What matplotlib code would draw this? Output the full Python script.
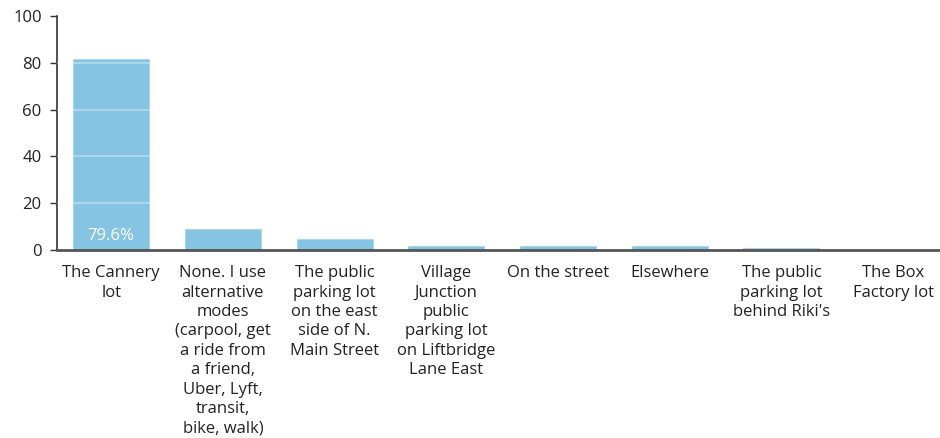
import matplotlib
matplotlib.use("Agg")
import matplotlib.pyplot as plt

categories = [
    "The Cannery\nlot",
    "None. I use\nalternative\nmodes\n(carpool, get\na ride from\na friend,\nUber, Lyft,\ntransit,\nbike, walk)",
    "The public\nparking lot\non the east\nside of N.\nMain Street",
    "Village\nJunction\npublic\nparking lot\non Liftbridge\nLane East",
    "On the street",
    "Elsewhere",
    "The public\nparking lot\nbehind Riki's",
    "The Box\nFactory lot",
]
values = [81.7, 8.8, 4.8, 1.8, 1.8, 1.8, 1.0, 0.0]
bar_labels = ["79.6%", "", "", "", "", "", "", ""]
yticks = [0, 20, 40, 60, 80, 100]

plt.rcParams['font.family'] = ['Open Sans', 'DejaVu Sans']

fig = plt.figure(figsize=(9.4, 4.38), dpi=100)
ax = fig.add_axes([0.0606, 0.429, 0.9394, 0.5345])

x = list(range(len(categories)))
bars = ax.bar(x, values, width=0.68, color="#86C4E3", edgecolor="#A9D6EC",
              linewidth=0.8, zorder=2)

for yv in yticks[1:-1]:
    ax.axhline(yv, color="white", alpha=0.4, lw=1.2, zorder=3)

for b, lab in zip(bars, bar_labels):
    if lab:
        ax.text(b.get_x() + b.get_width() / 2, 2.8, lab, ha="center", va="bottom",
                color="white", fontsize=12, zorder=4)

ax.set_xlim(-0.485, 7.42)
ax.set_ylim(0, 100)
ax.set_yticks(yticks)
ax.set_yticklabels([str(v) for v in yticks], fontsize=12, color="#222222")
ax.set_xticks(x)
ax.set_xticklabels(categories, fontsize=12, color="#222222", linespacing=1.28)
ax.tick_params(axis="x", length=0, pad=11)
ax.tick_params(axis="y", length=5, width=1, color="#333333", pad=6)

for s in ["top", "right"]:
    ax.spines[s].set_visible(False)
ax.spines["left"].set_color("#333333")
ax.spines["left"].set_linewidth(1.2)
ax.spines["bottom"].set_color("#555555")
ax.spines["bottom"].set_linewidth(2)

fig.savefig("out.png", dpi=100)
